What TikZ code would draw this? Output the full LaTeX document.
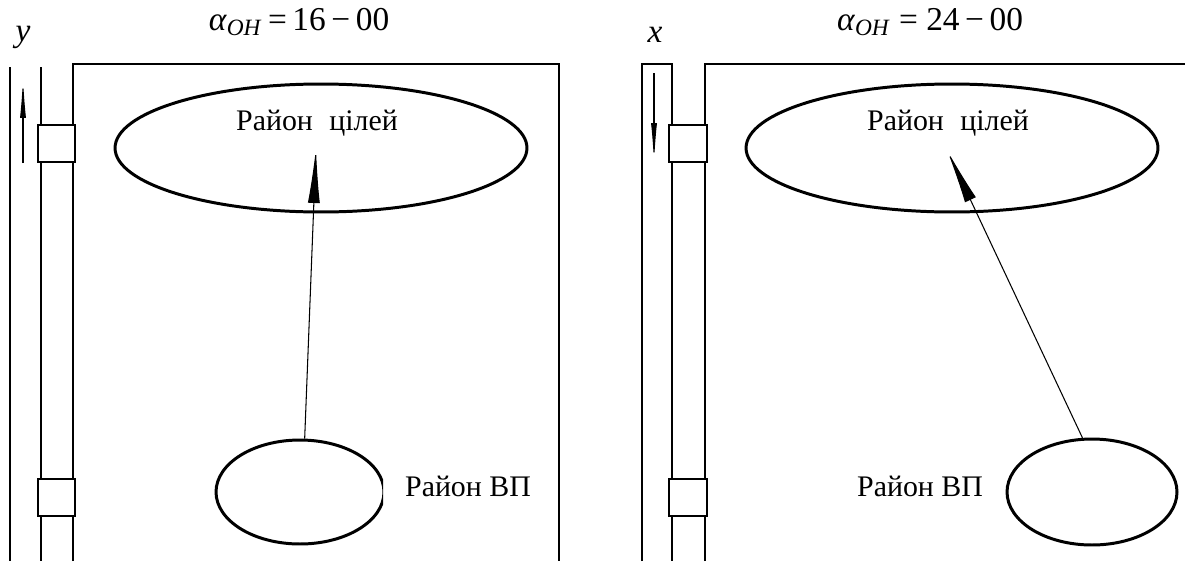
\documentclass[tikz,border=0pt]{standalone}
\usepackage{fontspec}
\setmainfont{Liberation Serif}
\usetikzlibrary{shapes.geometric,arrows.meta}
\tikzset{
  frame/.style={draw=black, line width=0.8pt},
  slider/.style={draw=black, fill=white, line width=1.1pt},
  zone/.style={draw=black, ellipse, line width=1.7pt, inner sep=0pt},
  aim/.style={draw=black, line width=0.6pt, -{Latex[length=1.1cm,width=0.24cm]}},
  dir/.style={draw=black, line width=0.6pt, -{Latex[length=0.8cm,width=0.12cm]}},
  lab/.style={font=\fontsize{17}{20}\selectfont, inner sep=0pt},
  ttl/.style={font=\fontsize{19}{22}\selectfont, inner sep=0pt},
}

\begin{document}
\begin{tikzpicture}[x=0.02cm,y=-0.02cm]
  \useasboundingbox (0,0) rectangle (1185,561);
  % left panel (y)
  \draw[frame] (10,67) -- (10,561);
  \draw[frame] (41,67) -- (41,561);
  \draw[frame] (73,561) -- (73,64) -- (559,64) -- (559,561);
  \draw[slider] (38,125) rectangle (75,162);
  \draw[slider] (38,479) rectangle (75,516);
  \draw[dir] (23,163) -- (23,78);
  \node[ttl] (axY) at (23,37) {\textit{y}};
  \node[ttl] (angL) at (299,22) {\textit{α}\textsubscript{\textit{OH}}\,=\,16\,−\,00};
  \node[zone, minimum width=8.24cm, minimum height=2.56cm] (celL) at (321,148) {};
  \node[lab] (celLtxt) at (317,123) {Район\hspace{0.55em}цілей};
  \begin{scope}
    \clip (0,0) rectangle (383,561);
    \node[zone, minimum width=3.36cm, minimum height=2.08cm] (vpL) at (300,492) {};
  \end{scope}
  \node[lab] (vpLtxt) at (468,486) {Район ВП};
  \coordinate (aimL) at (316,148);
  \draw[aim] (vpL.85) -- (aimL);

  % right panel (x)
  \draw[frame] (642,561) -- (642,64) -- (672,64) -- (672,561);
  \draw[frame] (705,561) -- (705,64) -- (1185,64);
  \draw[slider] (669,125) rectangle (707,162);
  \draw[slider] (669,479) rectangle (707,516);
  \draw[dir] (654,73) -- (654,163);
  \node[ttl] (axX) at (655,35) {\textit{x}};
  \node[ttl] (angR) at (930,22) {\textit{α}\textsubscript{\textit{OH}}\ =\ 24\,−\,00};
  \node[zone, minimum width=8.24cm, minimum height=2.56cm] (celR) at (952,148) {};
  \node[lab] (celRtxt) at (948,123) {Район\hspace{0.55em}цілей};
  \node[zone, minimum width=3.4cm, minimum height=2.12cm] (vpR) at (1092,492) {};
  \node[lab] (vpRtxt) at (920,486) {Район ВП};
  \coordinate (aimR) at (947,150);
  \draw[aim] (vpR.100) -- (aimR);
\end{tikzpicture}
\end{document}
